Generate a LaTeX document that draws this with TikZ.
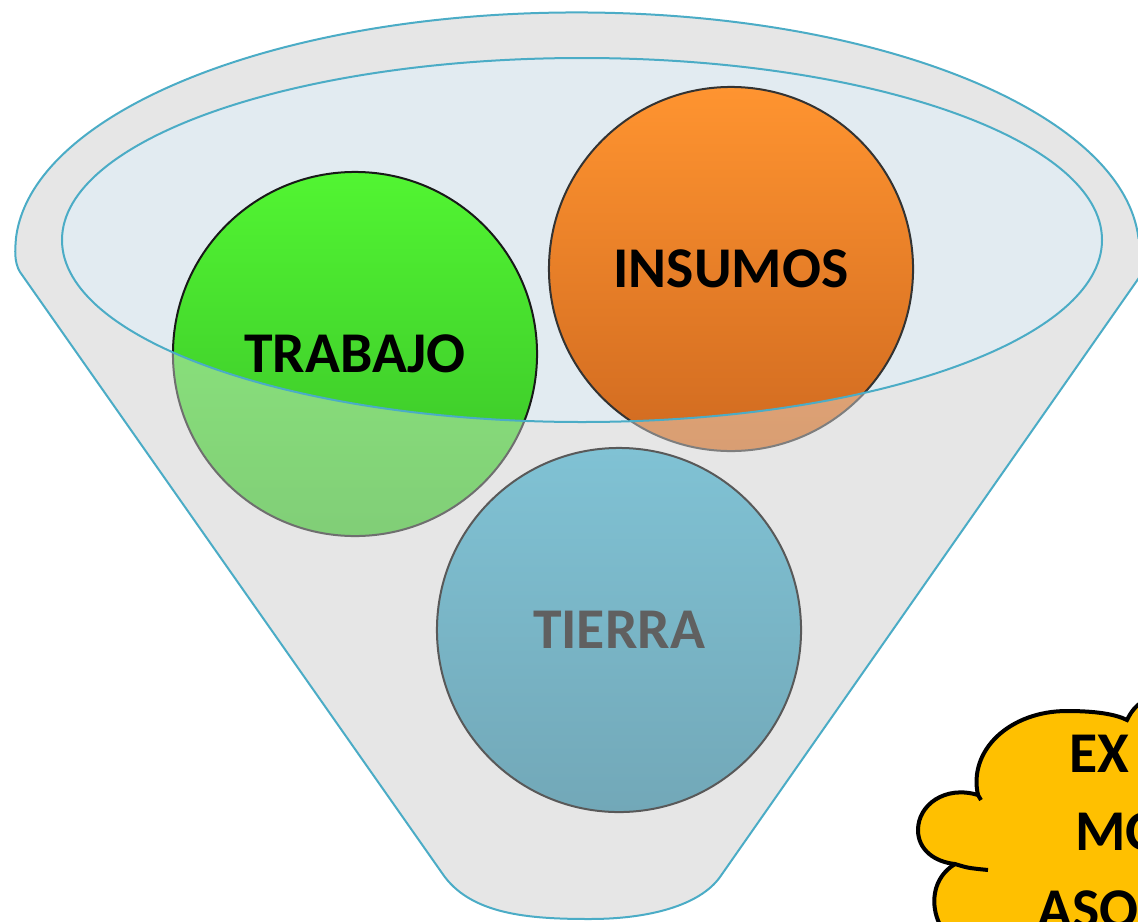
\documentclass[tikz,border=0pt]{standalone}
\usepackage{fontspec}
\setmainfont{Carlito}
\usetikzlibrary{positioning}
\definecolor{embudogris}{HTML}{E6E6E6}
\definecolor{embudoborde}{HTML}{4BACC6}
\definecolor{bocafondo}{HTML}{E2EBF1}
\definecolor{verdearriba}{HTML}{52F532}
\definecolor{verdeabajo}{HTML}{38BE28}
\definecolor{naranjaarriba}{HTML}{FF9430}
\definecolor{naranjaabajo}{HTML}{D06A20}
\definecolor{azularriba}{HTML}{80C2D4}
\definecolor{azulabajo}{HTML}{72A8B8}
\definecolor{nubeamarillo}{HTML}{FFC000}
\definecolor{textogris}{HTML}{606060}

\tikzset{
  bola/.style={circle, minimum size=9.1cm, inner sep=0pt, line width=0.05cm, font=\fontsize{41}{41}\selectfont\bfseries},
  borde/.style={draw=embudoborde, line width=0.05cm},
}
\def\contornoembudo{(442,873) -- (20,272) .. controls (14,262) and (15,250) .. (16,238)
  arc[start angle=183, end angle=357, x radius=562, y radius=238] -- (1150,262) -- (720,877)
  .. controls (700,905) and (650,919) .. (590,919) .. controls (530,919) and (470,915) .. cycle}
\def\bocaembudo{(582,240) ellipse[x radius=520, y radius=182]}

\begin{document}
\begin{tikzpicture}[x=0.025cm, y=-0.025cm]
  \useasboundingbox (0,0) rectangle (1138,921);
  \clip (0,0) rectangle (1138,921);

  % embudo
  \fill[embudogris] \contornoembudo;
  \fill[bocafondo] \bocaembudo;

  \node[bola, draw=black!90, top color=verdearriba, bottom color=verdeabajo] at (355,354) (trabajo) {TRABAJO};
  \node[bola, draw=black!80, top color=naranjaarriba, bottom color=naranjaabajo] at (731,269) (insumos) {INSUMOS};

  % frente del embudo
  \fill[embudogris, opacity=0.42, even odd rule] \contornoembudo \bocaembudo;
  \path[borde] \bocaembudo;
  \path[borde] \contornoembudo;

  \node[bola, draw=black!65, top color=azularriba, bottom color=azulabajo, text=textogris] at (619,630) (tierra) {TIERRA};

  % nube
  \fill[nubeamarillo] (940,925) .. controls (930,905) and (932,878) .. (955,864)
    .. controls (935,862) and (918,850) .. (918,830) .. controls (918,805) and (945,785) .. (978,795)
    .. controls (968,750) and (1010,711) .. (1067,711) .. controls (1095,711) and (1115,714) .. (1127,720)
    .. controls (1131,712) and (1135,706) .. (1145,700) -- (1145,925) -- cycle;
  \draw[line width=0.1cm] (940,925) .. controls (930,905) and (932,878) .. (955,864);
  \draw[line width=0.1cm] (978,795) .. controls (968,750) and (1010,711) .. (1067,711)
    .. controls (1095,711) and (1115,714) .. (1127,720) .. controls (1131,712) and (1135,706) .. (1145,700);
  \draw[line width=0.1cm] (981,800) -- (978,795) .. controls (945,785) and (918,805) .. (918,830)
    .. controls (918,850) and (935,862) .. (955,864) .. controls (968,868) .. (988,870);
  \node[anchor=north west, align=left, inner sep=0pt, font=\fontsize{41}{55.5}\selectfont\bfseries] at (1037,735) (nube) {\hspace*{0.8cm}EX\\\hspace*{0.95cm}MO\\ASO};
\end{tikzpicture}
\end{document}
